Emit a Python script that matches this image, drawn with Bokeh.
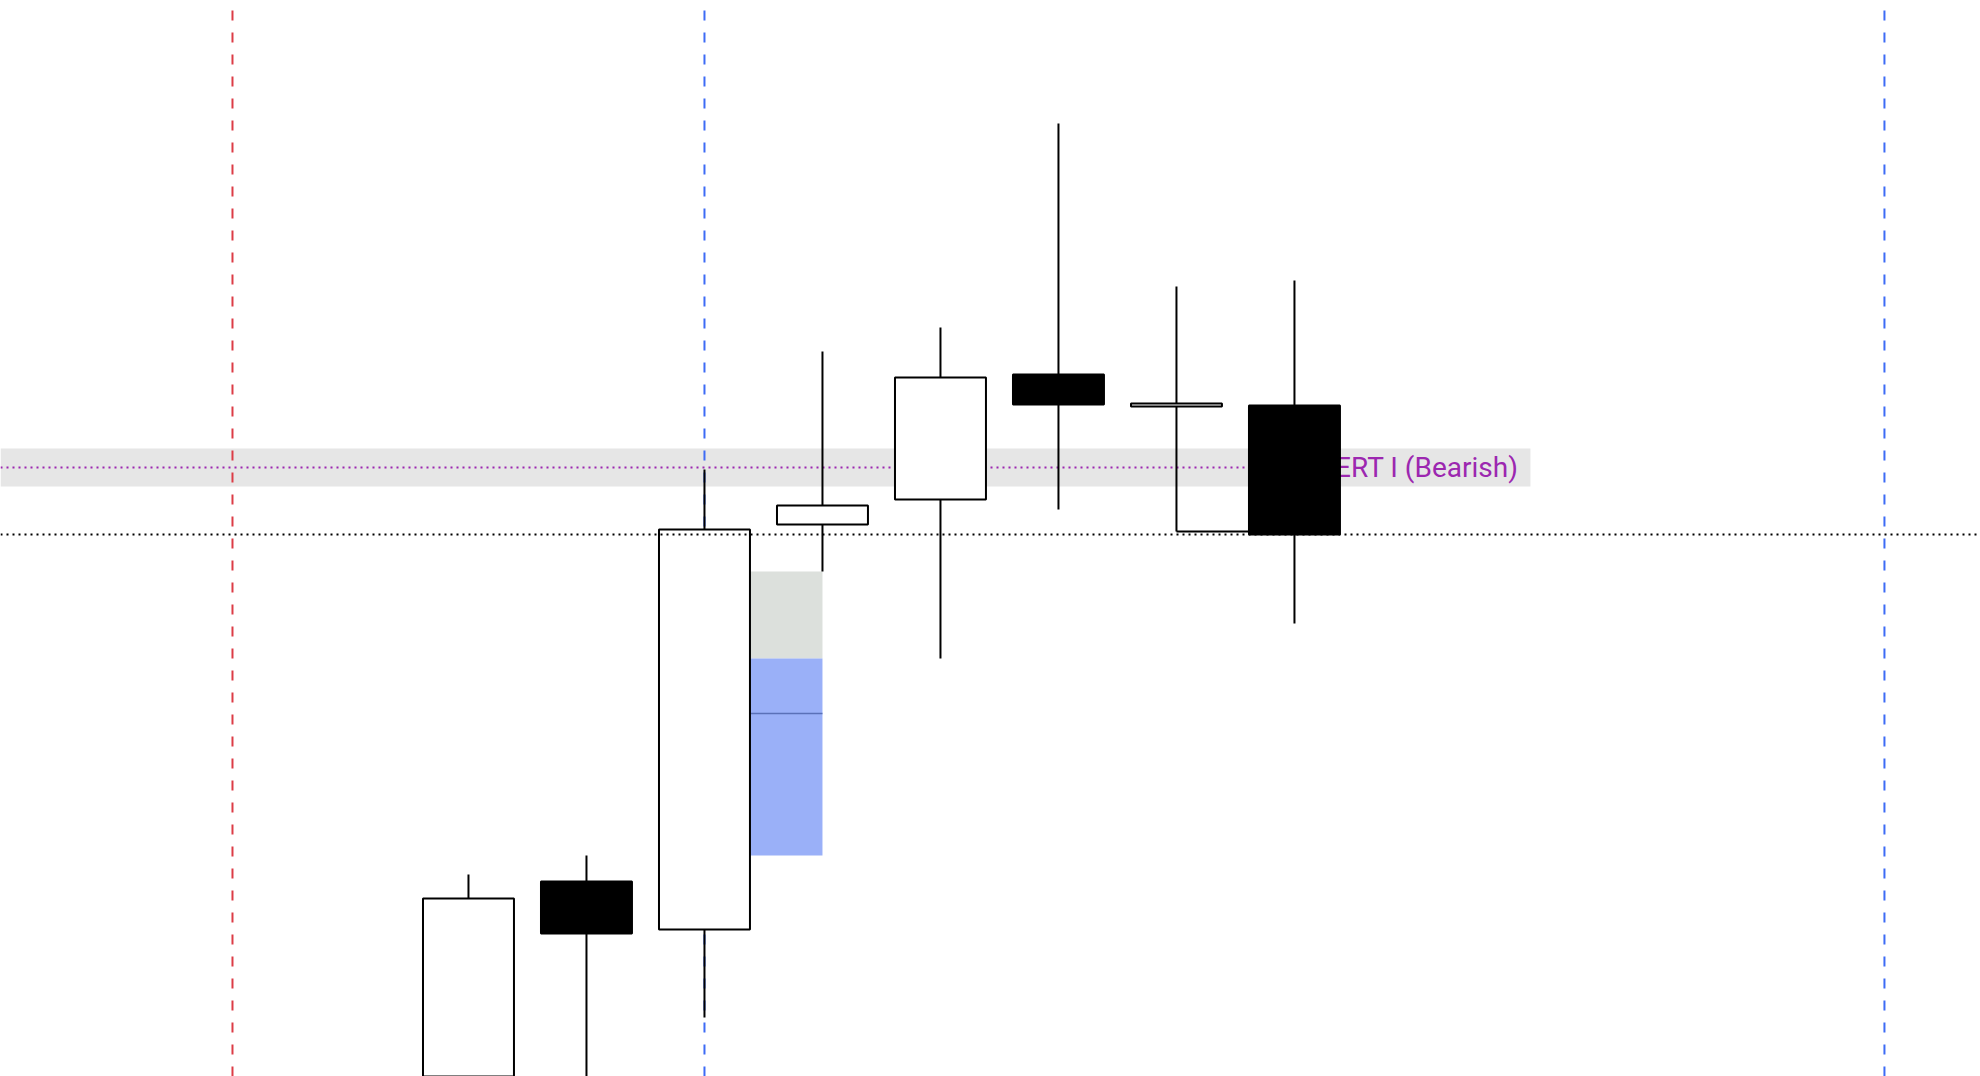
from bokeh.plotting import figure
from bokeh.models import Range1d, ColumnDataSource
from bokeh.embed import file_html
from bokeh.resources import INLINE
from bokeh.core.properties import value

# ---- data ----
idx    = [0, 1, 2, 3, 4, 5, 6, 7]
opens  = [4991.5, 5048.75, 5036.75, 5138.0, 5144.25, 5175.5, 5167.5, 5167.75]
highs  = [5050.5, 5055.25, 5151.75, 5181.25, 5187.25, 5238.25, 5197.5, 5199.0]
lows   = [4974.0, 4989.0, 5014.75, 5126.25, 5104.5, 5141.75, 5136.25, 5113.25]
closes = [5044.5, 5035.75, 5136.75, 5142.75, 5174.75, 5168.0, 5168.25, 5135.5]

red_marks = [-2]
blue_marks = [2, 12]

level = 5152.25
band_top = 5157.0
band_bottom = 5147.5
band_end = 9.0
label_text = "ERT I (Bearish)"

fvg_left, fvg_right = 2, 3
fvg_top = lows[3]
fvg_bottom = highs[1]
fvg_filled_to = lows[4]

last_price = closes[-1]

# ---- figure ----
W, H = 1980, 1076
p = figure(width=W, height=H, output_backend="svg", toolbar_location=None,
           x_axis_type=None, y_axis_type=None, min_border=0,
           x_range=Range1d(-3.966, 12.814), y_range=Range1d(5000.0, 5269.0))
p.outline_line_color = None
p.grid.visible = False
p.background_fill_color = "white"
p.border_fill_color = "white"

x0, x1 = p.x_range.start, p.x_range.end
y0, y1 = p.y_range.start, p.y_range.end

# label band and level line
p.quad(left=[x0], right=[band_end], bottom=[band_bottom], top=[band_top],
       fill_color="#E6E6E6", line_color=None)
p.segment(x0=[x0], x1=[7], y0=[level], y1=[level], line_color="#9C27B0",
          line_width=2, line_dash="2 4")
p.text(x=[8.898], y=[level], text=[label_text], text_align="right",
       text_baseline="middle", text_color="#9C27B0", text_font_size="28px",
       text_font=value("Roboto"))

# vertical session markers
p.segment(x0=red_marks, x1=red_marks, y0=[y0]*len(red_marks), y1=[y1]*len(red_marks),
          line_color="#DC3C46", line_width=2, line_dash="10 12")
p.segment(x0=blue_marks, x1=blue_marks, y0=[y0]*len(blue_marks), y1=[y1]*len(blue_marks),
          line_color="#3D6BF5", line_width=2, line_dash="10 12")

# fair value gap
p.quad(left=[fvg_left], right=[fvg_right], bottom=[fvg_filled_to], top=[fvg_top],
       fill_color="#DCE0DC", line_color=None)
p.quad(left=[fvg_left], right=[fvg_right], bottom=[fvg_bottom], top=[fvg_filled_to],
       fill_color="#9AB0F8", line_color=None)
mid = (fvg_top + fvg_bottom) / 2
p.segment(x0=[fvg_left], x1=[fvg_right], y0=[mid], y1=[mid], line_color="#5A70B8",
          line_width=1.5)

# low ray of candle 6
p.segment(x0=[idx[6]], x1=[idx[7]], y0=[lows[6]], y1=[lows[6]], line_color="black",
          line_width=2)

# candles
src = ColumnDataSource(dict(
    x=idx, o=opens, h=highs, l=lows, c=closes,
    top=[max(a, b) for a, b in zip(opens, closes)],
    bot=[min(a, b) for a, b in zip(opens, closes)],
    fill=["white" if c >= o else "black" for o, c in zip(opens, closes)],
))
p.segment(x0="x", x1="x", y0="l", y1="h", source=src, line_color="black", line_width=2)
p.vbar(x="x", width=0.771, top="top", bottom="bot", source=src, fill_color="fill",
       line_color="black", line_width=2)

# last price line
p.segment(x0=[x0], x1=[x1], y0=[last_price], y1=[last_price], line_color="black",
          line_width=2, line_dash="2 4")

open("out.html", "w").write(file_html(p, INLINE))
